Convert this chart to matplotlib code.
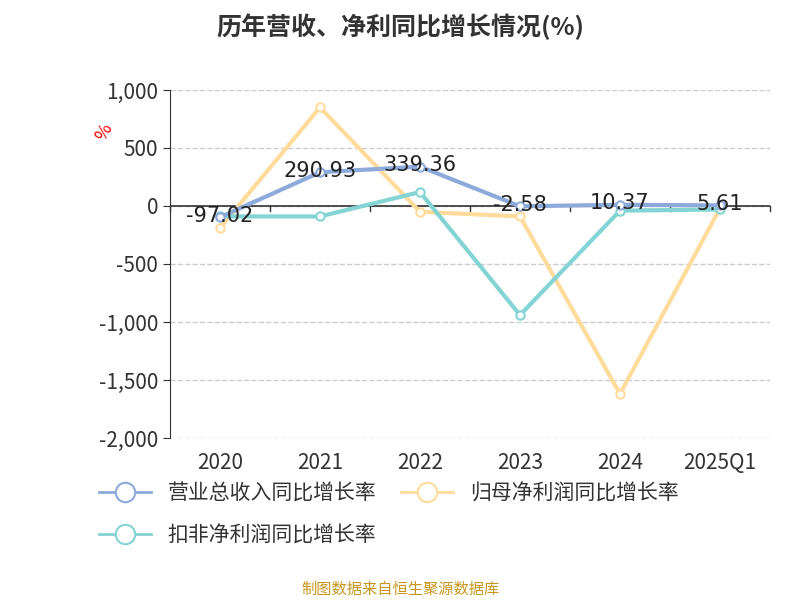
import matplotlib.pyplot as plt
from matplotlib.lines import Line2D

plt.rcParams['font.family'] = ['Noto Sans CJK SC', 'DejaVu Sans']

years = ['2020', '2021', '2022', '2023', '2024', '2025Q1']
revenue = [-97.02, 290.93, 339.36, -2.58, 10.37, 5.61]
net_profit = [-190, 850, -50, -90, -1620, -20]
deducted = [-90, -90, 120, -940, -40, -30]

c_rev = '#8eaadb'
c_net = '#ffdb9c'
c_ded = '#84d4d4'

fig = plt.figure(figsize=(8, 6), dpi=100)
ax = fig.add_axes([0.2125, 0.27, 0.75, 0.58])
x = list(range(len(years)))

for vals, c in [(net_profit, c_net), (deducted, c_ded), (revenue, c_rev)]:
    ax.plot(x, vals, color=c, lw=3, marker='o', ms=6, mfc='white', mec=c, mew=1.5, zorder=3)

for xi, v in zip(x, revenue):
    ax.text(xi, v + 15, f'{v:.2f}', ha='center', va='center', fontsize=15,
            color='#222222', family='DejaVu Sans', zorder=4)

ax.set_xlim(-0.5, 5.5)
ax.set_ylim(-2000, 1000)
ax.set_yticks(range(-2000, 1001, 500))
ax.set_yticklabels([f'{v:,}' for v in range(-2000, 1001, 500)], fontsize=15, color='#333333')
ax.set_xticks(x)
ax.set_xticklabels(years, fontsize=15, color='#333333')
ax.tick_params(axis='x', length=0, pad=10)
ax.tick_params(axis='y', length=5, color='#333333')
ax.grid(axis='y', ls='--', color='#cccccc', lw=1)
for s in ['top', 'right', 'bottom']:
    ax.spines[s].set_visible(False)
ax.spines['left'].set_color('#333333')
ax.axhline(0, color='#333333', lw=1.2, zorder=2)
for b in [i - 0.5 for i in range(7)]:
    ax.plot([b, b], [0, -45], color='#333333', lw=1, clip_on=False, zorder=2)

fig.text(0.13, 0.78, '%', color='red', fontsize=13, rotation=60, ha='center', va='center')
fig.text(0.5, 0.955, '历年营收、净利同比增长情况(%)', ha='center', va='center',
         fontsize=18, fontweight='bold', color='#333333')

def handle(c):
    return Line2D([0], [0], color=c, lw=2, marker='o', ms=14, mfc='white', mec=c, mew=1.5)

fig.legend([handle(c_rev), handle(c_net)], ['营业总收入同比增长率', '归母净利润同比增长率'],
           loc='center left', bbox_to_anchor=(0.1, 0.178), ncol=2, frameon=False,
           fontsize=15, handlelength=2.5, columnspacing=1.2, labelcolor='#333333')
fig.legend([handle(c_ded)], ['扣非净利润同比增长率'],
           loc='center left', bbox_to_anchor=(0.1, 0.108), frameon=False,
           fontsize=15, handlelength=2.5, labelcolor='#333333')

fig.text(0.5, 0.018, '制图数据来自恒生聚源数据库', ha='center', va='center', fontsize=11, color='#c8961e')

fig.savefig('out.png')
